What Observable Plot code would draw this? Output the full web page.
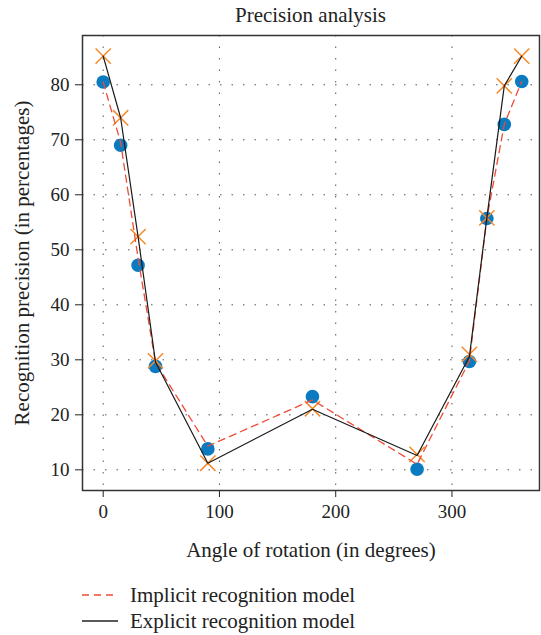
<!DOCTYPE html>
<html>
<head>
<meta charset="utf-8">
<script src="https://cdn.jsdelivr.net/npm/d3@7"></script>
<script src="https://cdn.jsdelivr.net/npm/@observablehq/plot@0.6"></script>
<style>
  body { margin: 0; background: #fff; font-family: "Liberation Serif", "DejaVu Serif", serif; color: #222; }
  #wrap { position: relative; width: 541px; height: 635px; }
  #title { position: absolute; top: 2px; left: 82px; width: 457px; text-align: center; font-size: 21px; line-height: 26px; }
  #chart { position: absolute; top: 0; left: 0; }
  #chart svg, #chart svg text { font-family: "Liberation Serif", "DejaVu Serif", serif !important; }
  #chart g[aria-label="x-axis label"] text, #chart g[aria-label="y-axis label"] text { font-size: 21px; }
  .leg { position: absolute; left: 82px; font-size: 21px; line-height: 26px; display: flex; align-items: center; }
  .leg svg { margin-right: 12px; }
</style>
</head>
<body>
<div id="wrap">
  <div id="chart"></div>
  <div id="title">Precision analysis</div>
  <div class="leg" style="top:582px"><svg width="36" height="6"><line x1="0" y1="3" x2="36" y2="3" stroke="#ef4b35" stroke-width="1.3" stroke-dasharray="7,5"/></svg><span>Implicit recognition model</span></div>
  <div class="leg" style="top:608px"><svg width="36" height="6"><line x1="0" y1="3" x2="36" y2="3" stroke="#222" stroke-width="1.3"/></svg><span>Explicit recognition model</span></div>
</div>
<script>
const angles = [0, 15, 30, 45, 90, 180, 270, 315, 330, 345, 360];
const blueDots = [80.5, 69.0, 47.2, 28.8, 13.8, 23.3, 10.1, 29.7, 55.7, 72.8, 80.6];
const orangeCrosses = [85.2, 74.0, 52.4, 29.8, 11.2, 21.1, 12.8, 31.0, 55.8, 79.8, 85.2];
const implicitLine = [80.5, 69.5, 48.5, 29.5, 14.3, 22.7, 11.0, 29.8, 55.7, 72.8, 80.6];
const explicitLine = [85.2, 74.0, 52.4, 29.6, 11.2, 21.0, 12.6, 30.6, 55.8, 79.8, 85.2];
const xTicks = [0, 100, 200, 300];
const yTicks = [10, 20, 30, 40, 50, 60, 70, 80];

const rows = (vals) => angles.map((a, i) => ({angle: a, value: vals[i]}));
const serif = "Liberation Serif, DejaVu Serif, serif";

const plot = Plot.plot({
  width: 541,
  height: 570,
  marginLeft: 82,
  marginRight: 2,
  marginTop: 35,
  marginBottom: 80,
  style: "font-family: 'Liberation Serif', 'DejaVu Serif', serif; font-size: 19px; color: #222; background: transparent;",
  x: {domain: [-17.8, 375.3]},
  y: {domain: [6.24, 88.96]},
  marks: [
    Plot.gridX(xTicks, {stroke: "#444", strokeOpacity: 0.9, strokeDasharray: "1.5,10"}),
    Plot.gridY(yTicks, {stroke: "#444", strokeOpacity: 0.9, strokeDasharray: "1.5,10"}),
    Plot.axisX({ticks: xTicks, tickSize: 7, tickPadding: 7, fontSize: 19, fontFamily: serif, label: "Angle of rotation (in degrees)", labelAnchor: "center", labelOffset: 66, labelArrow: "none"}),
    Plot.axisY({ticks: yTicks, tickSize: 7, tickPadding: 6, fontSize: 19, fontFamily: serif, label: "Recognition precision (in percentages)", labelAnchor: "center", labelOffset: 68, labelArrow: "none"}),
    Plot.frame({stroke: "#333", strokeWidth: 1.5}),
    Plot.dot(rows(blueDots), {x: "angle", y: "value", r: 6.8, fill: "#0b7bc1", stroke: "none"}),
    Plot.dot(rows(orangeCrosses), {x: "angle", y: "value", symbol: "times", r: 7, stroke: "#f48a2a", strokeWidth: 1.5}),
    Plot.line(rows(implicitLine), {x: "angle", y: "value", stroke: "#ef4b35", strokeWidth: 1.3, strokeDasharray: "7,5"}),
    Plot.line(rows(explicitLine), {x: "angle", y: "value", stroke: "#1a1a1a", strokeWidth: 1.2})
  ]
});
document.getElementById("chart").appendChild(plot);
</script>
</body>
</html>
